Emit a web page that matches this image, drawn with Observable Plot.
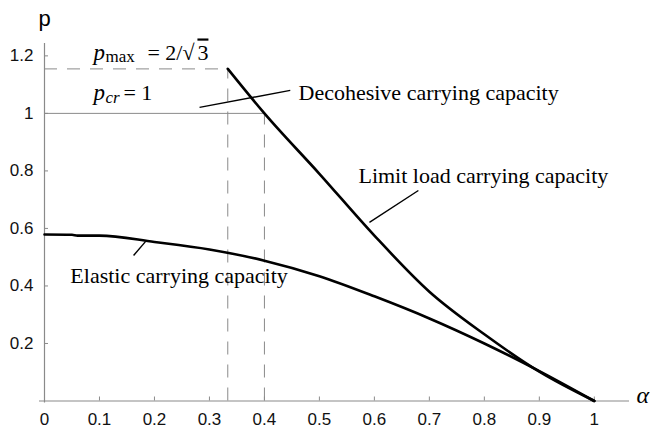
<!DOCTYPE html>
<html>
<head>
<meta charset="utf-8">
<script src="https://cdn.jsdelivr.net/npm/d3@7"></script>
<script src="https://cdn.jsdelivr.net/npm/@observablehq/plot@0.6"></script>
<style>
  body { margin: 0; background: #fff; }
</style>
</head>
<body>
<div id="chart"></div>
<script>
// ---- data ----
const elasticAlpha = [0, 0.05, 0.06, 0.1, 0.2, 0.3, 0.4, 0.5, 0.6, 0.7, 0.8, 0.9, 1];
const elasticP     = [0.579, 0.578, 0.575, 0.575, 0.553, 0.527, 0.488, 0.434, 0.364, 0.287, 0.2, 0.104, 0];

const limitAlpha = [1/3, 0.4, 0.5, 0.6, 0.7, 0.8, 0.9, 1];
const limitP     = [1.155, 1.0, 0.79, 0.575, 0.38, 0.232, 0.102, 0];

const pMax = 2 / Math.sqrt(3);
const pCr = 1;
const alphaMax = 1/3;
const alphaCr = 0.4;

const xTicks = [0, 0.1, 0.2, 0.3, 0.4, 0.5, 0.6, 0.7, 0.8, 0.9, 1];
const yTicks = [0.2, 0.4, 0.6, 0.8, 1, 1.2];

// curve labels: text, x, y (baseline), and leader lines
const labelText = ["Decohesive carrying capacity", "Limit load carrying capacity", "Elastic carrying capacity"];
const labelX = [0.462, 0.571, 0.047];
const labelY = [1.045, 0.757, 0.409];
const leaderX1 = [0.282, 0.591, 0.162];
const leaderY1 = [1.021, 0.621, 0.506];
const leaderX2 = [0.447, 0.680, 0.184];
const leaderY2 = [1.080, 0.732, 0.555];

// ---- layout ----
const W = 653, H = 437;
const mL = 44, mR = 24, mT = 43, mB = 36.5;
const xMax = 1.064, yMax = 1.243;
const pxPerY = (H - mT - mB) / yMax;
const pxPerX = (W - mL - mR) / xMax;
const tickLen = 4;

const elastic = elasticAlpha.map((a, i) => ({a, p: elasticP[i]}));
const limit = limitAlpha.map((a, i) => ({a, p: limitP[i]}));
const labels = labelText.map((t, i) => ({t, x: labelX[i], y: labelY[i]}));
const leaders = leaderX1.map((x1, i) => ({x1, y1: leaderY1[i], x2: leaderX2[i], y2: leaderY2[i]}));

const serif = "'Liberation Serif', 'Times New Roman', serif";
const sans = "'Liberation Sans', Arial, sans-serif";
const grey = "#8a8a8a";
const fmt = d => String(+d.toFixed(1));

const annX = 0.089;
const annYmax = 1.184;
const annYcr = 1.045;

const plot = Plot.plot({
  width: W, height: H,
  marginLeft: mL, marginRight: mR, marginTop: mT, marginBottom: mB,
  x: {domain: [0, xMax], axis: null},
  y: {domain: [0, yMax], axis: null},
  style: {fontFamily: sans, fontSize: "17px", color: "#111", background: "#fff", overflow: "visible"},
  marks: [
    // axis lines
    Plot.ruleY([0], {x1: -5 / pxPerX, x2: xMax, stroke: grey, strokeWidth: 1.2}),
    Plot.ruleX([0], {y1: -2 / pxPerY, y2: yMax, stroke: grey, strokeWidth: 1.2}),
    // inward ticks
    Plot.ruleX(xTicks.slice(1), {x: d => d, y1: 0, y2: tickLen / pxPerY, stroke: grey}),
    Plot.ruleY(yTicks, {y: d => d, x1: 0, x2: tickLen / pxPerX, stroke: grey}),
    // tick labels
    Plot.axisX({ticks: xTicks, tickSize: 0, tickPadding: 12, tickFormat: fmt, fontSize: 17, label: null}),
    Plot.axisY({ticks: yTicks, tickSize: 0, tickPadding: 11, tickFormat: fmt, fontSize: 17, label: null}),
    // reference lines
    Plot.ruleY([pCr], {x1: 0, x2: alphaCr, stroke: grey, strokeWidth: 1}),
    Plot.ruleY([pMax], {x1: 0, x2: alphaMax, stroke: grey, strokeWidth: 1, strokeDasharray: "13,10"}),
    Plot.ruleX([alphaMax], {y1: 0, y2: pMax, stroke: grey, strokeWidth: 1, strokeDasharray: "13,10"}),
    Plot.ruleX([alphaCr], {y1: 0, y2: pCr, stroke: grey, strokeWidth: 1, strokeDasharray: "13,10"}),
    // curves
    Plot.line(elastic, {x: "a", y: "p", stroke: "#000", strokeWidth: 2.6, curve: "monotone-x"}),
    Plot.line(limit, {x: "a", y: "p", stroke: "#000", strokeWidth: 2.6, curve: "monotone-x"}),
    // leader lines
    Plot.link(leaders, {x1: "x1", y1: "y1", x2: "x2", y2: "y2", stroke: "#000", strokeWidth: 1.4}),
    // curve labels
    Plot.text(labels, {x: "x", y: "y", text: "t", textAnchor: "start", lineAnchor: "bottom", fontFamily: serif, fontSize: 22, fill: "#000"}),
    // p_max annotation
    Plot.text(["p"], {x: annX, y: annYmax, textAnchor: "start", lineAnchor: "bottom", fontFamily: serif, fontStyle: "italic", fontSize: 23, fill: "#000"}),
    Plot.text(["max"], {x: annX, y: annYmax, dx: 12, dy: 2, textAnchor: "start", lineAnchor: "bottom", fontFamily: serif, fontSize: 17, fill: "#000"}),
    Plot.text(["= 2/√"], {x: annX, y: annYmax, dx: 54, textAnchor: "start", lineAnchor: "bottom", fontFamily: serif, fontSize: 22, fill: "#000"}),
    Plot.text(["3"], {x: annX, y: annYmax, dx: 104, textAnchor: "start", lineAnchor: "bottom", fontFamily: serif, fontSize: 22, fill: "#000"}),
    // p_cr annotation
    Plot.text(["p"], {x: annX, y: annYcr, textAnchor: "start", lineAnchor: "bottom", fontFamily: serif, fontStyle: "italic", fontSize: 23, fill: "#000"}),
    Plot.text(["cr"], {x: annX, y: annYcr, dx: 12, dy: 3, textAnchor: "start", lineAnchor: "bottom", fontFamily: serif, fontStyle: "italic", fontSize: 17, fill: "#000"}),
    Plot.text(["= 1"], {x: annX, y: annYcr, dx: 30, textAnchor: "start", lineAnchor: "bottom", fontFamily: serif, fontSize: 22, fill: "#000"}),
    // axis labels
    Plot.text(["p"], {x: 0, y: yMax, dy: -18, textAnchor: "middle", lineAnchor: "bottom", fontFamily: sans, fontSize: 22, fill: "#000"}),
    Plot.text(["α"], {x: xMax, dx: 7, y: 0, dy: 2, textAnchor: "start", lineAnchor: "bottom", fontFamily: serif, fontStyle: "italic", fontSize: 24, fill: "#000"})
  ]
});

// overline over the radicand "3"
d3.select(plot).selectAll("text").filter(function() { return this.textContent === "3"; })
  .style("text-decoration", "overline");

document.getElementById("chart").appendChild(plot);
</script>
</body>
</html>
